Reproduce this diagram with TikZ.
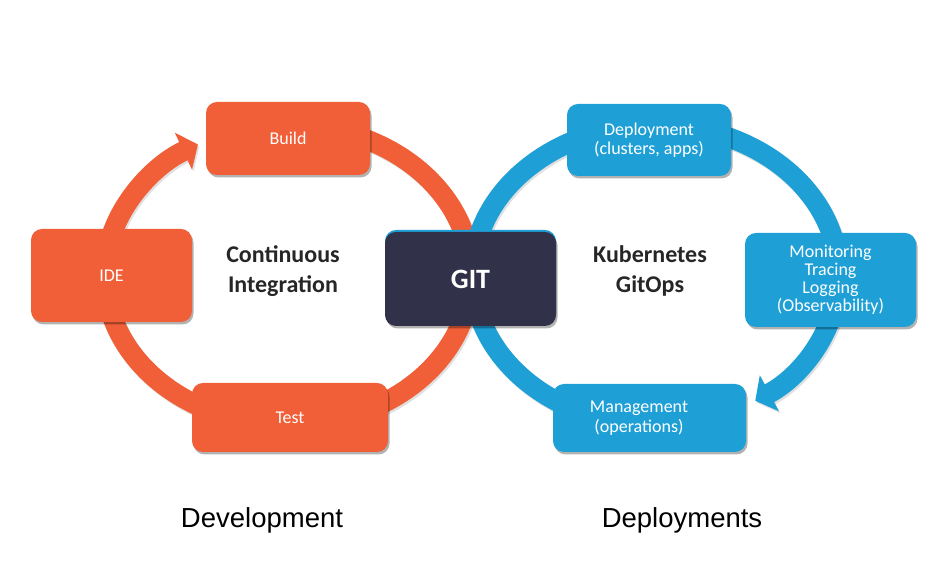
\documentclass[tikz,border=0pt]{standalone}
\usepackage{fontspec}
\setmainfont{Carlito}
\newfontfamily\arialf{Liberation Sans}
\usetikzlibrary{arrows.meta,shadows}
\definecolor{orng}{HTML}{F05F37}
\definecolor{blu}{HTML}{1EA0D7}
\definecolor{gitc}{HTML}{32314A}
\begin{document}
\begin{tikzpicture}[x=1pt,y=1pt,
  box/.style={rounded corners=11pt, inner sep=0pt, text=white, align=center,
    font=\fontsize{18}{19}\selectfont,
    drop shadow={shadow xshift=1.5pt, shadow yshift=-2.5pt, opacity=0.3, fill=black}},
  obox/.style={box, fill=orng},
  bbox/.style={box, fill=blu},
  ring/.style={line width=20pt},
  ringshadow/.style={line width=20pt, draw=black, opacity=0.12},
  headtxt/.style={align=center, font=\fontsize{24}{30}\selectfont\bfseries, text=black!85},
  bottomtxt/.style={anchor=base, font=\arialf\fontsize{27.5}{30}\selectfont}
]
\useasboundingbox (0,0) rectangle (939,577);

% ring shadows
\draw[ringshadow, -{Triangle[length=16pt,width=40pt]}] (289.5,300) ++(70:183pt and 150pt)
  arc[start angle=70, end angle=-240.5, x radius=183pt, y radius=150pt];
\draw[ringshadow, -{Triangle[length=16pt,width=40pt]}] (657.1,300) ++(-100:183pt and 150pt)
  arc[start angle=-100, end angle=-417, x radius=183pt, y radius=150pt];

% rings
\draw[ring, orng, -{Triangle[length=16pt,width=40pt]}] (288,302) ++(70:183pt and 150pt)
  arc[start angle=70, end angle=-240.5, x radius=183pt, y radius=150pt];
\draw[ring, blu, -{Triangle[length=16pt,width=40pt]}] (655.6,302) ++(-100:183pt and 150pt)
  arc[start angle=-100, end angle=-417, x radius=183pt, y radius=150pt];

% orange boxes
\node[obox, minimum width=164pt, minimum height=73pt] (build) at (288,438.5) {Build};
\node[obox, minimum width=161pt, minimum height=93pt] (ide) at (111.5,301.5) {IDE};
\node[obox, minimum width=196pt, minimum height=69pt] (test) at (290,159.5) {Test};

% blue boxes
\node[bbox, minimum width=164pt, minimum height=72pt] (deploy) at (649,437) {Deployment\\(clusters, apps)};
\node[bbox, minimum width=171pt, minimum height=94pt, font=\fontsize{18}{18}\selectfont] (monitor) at (830.5,297) {Monitoring\\Tracing\\Logging\\(Observability)};
\node[bbox, minimum width=193pt, minimum height=68pt, font=\fontsize{18}{20.5}\selectfont] (manage) at (649.5,159) {\hspace*{-21pt}Management\\\hspace*{-21pt}(operations)};

% GIT box
\fill[blu, rounded corners=11pt] (385,253) rectangle (556,347);
\node[box, fill=gitc, minimum width=171pt, minimum height=94pt, font=\fontsize{28}{30}\selectfont\bfseries] (git) at (470.5,298) {GIT};

% titles
\node[headtxt] (ci) at (283,306) {Continuous\\Integration};
\node[headtxt] (k8s) at (650,306) {Kubernetes\\GitOps};
\node[bottomtxt] (dev) at (262,49) {Development};
\node[bottomtxt] (deps) at (682,49) {Deployments};
\end{tikzpicture}
\end{document}
